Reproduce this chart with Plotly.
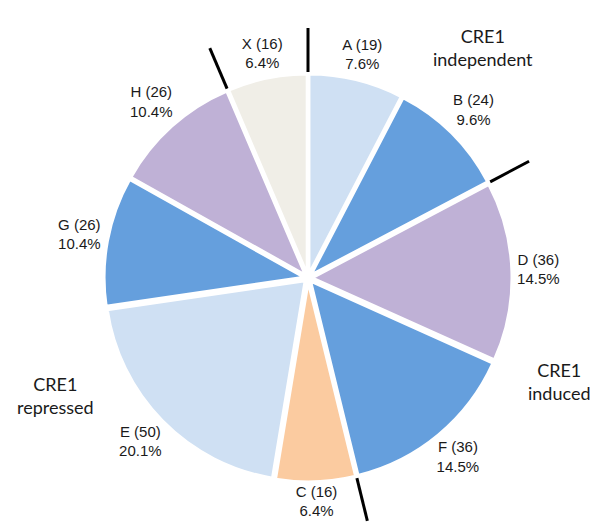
import numpy as np
import plotly.graph_objects as go

# ---- data ----
categories = ["A", "B", "D", "F", "C", "E", "G", "H", "X"]
counts = [19, 24, 36, 36, 16, 50, 26, 26, 16]
slice_colors = ["#CFE0F3", "#659FDD", "#BFB1D6", "#659FDD", "#FBCBA0",
                "#CFE0F3", "#659FDD", "#BFB1D6", "#F0EEE7"]
# separator lines are drawn after these categories
separators_after = ["X", "B", "F", "H"]
group_names = ["CRE1<br>independent", "CRE1<br>induced", "CRE1<br>repressed"]

# ---- geometry / style ----
W, H = 600, 530
CX, CY, R = 300, 270, 200          # pixel centre and radius
PULL = 0.02
side = 2 * R * (1 + PULL)

total = sum(counts)
cum = np.cumsum([0] + counts)
mid = (cum[:-1] + cum[1:]) / 2 / total * 2 * np.pi   # clockwise from 12 o'clock

fig = go.Figure()
fig.add_trace(go.Pie(
    labels=categories, values=counts, sort=False, direction="clockwise",
    rotation=0, pull=[PULL] * len(counts),
    marker=dict(colors=slice_colors, line=dict(color="white", width=3)),
    textinfo="none", hoverinfo="label+value+percent", showlegend=False,
    domain=dict(x=[(CX - side / 2) / W, (CX + side / 2) / W],
                y=[(H - CY - side / 2) / H, (H - CY + side / 2) / H]),
))

# slice labels, placed just outside the slice along the mid angle
ux, uy = np.sin(mid), np.cos(mid)
edge, hw, hh = 208, 22, 16
dist = (edge + hw * np.abs(ux) + hh * np.abs(uy)) / R
label_text = [f"{c} ({v})<br>{v / total * 100:.1f}%" for c, v in zip(categories, counts)]
fig.add_trace(go.Scatter(
    x=ux * dist, y=uy * dist, mode="text", text=label_text,
    textposition="middle center", cliponaxis=False, hoverinfo="skip",
    textfont=dict(family="Liberation Sans, Arial", size=15, color="#1a1a1a"),
    showlegend=False,
))

# black separator lines at group boundaries
r_in, r_out = 1.03, 1.25
lx, ly = [], []
for name in separators_after:
    i = categories.index(name)
    ang = cum[i + 1] / total * 2 * np.pi
    lx += [np.sin(ang) * r_in, np.sin(ang) * r_out, None]
    ly += [np.cos(ang) * r_in, np.cos(ang) * r_out, None]
fig.add_trace(go.Scatter(x=lx, y=ly, mode="lines", hoverinfo="skip",
                         line=dict(color="black", width=3), showlegend=False))

# group annotations (pixel positions converted to axis units)
group_px = [(475, 39), (551, 373), (47, 387)]
for txt, (px, py) in zip(group_names, group_px):
    fig.add_annotation(x=(px - CX) / R, y=(CY - py) / R, xref="x", yref="y",
                       text=txt, showarrow=False, align="center",
                       font=dict(family="Lato, Open Sans", size=18, color="#1a1a1a"))

fig.update_xaxes(range=[-CX / R, (W - CX) / R], visible=False, domain=[0, 1])
fig.update_yaxes(range=[-(H - CY) / R, CY / R], visible=False, domain=[0, 1])
fig.update_layout(width=W, height=H, margin=dict(l=0, r=0, t=0, b=0),
                  paper_bgcolor="white", plot_bgcolor="white", showlegend=False)

fig.write_html("out.html")
